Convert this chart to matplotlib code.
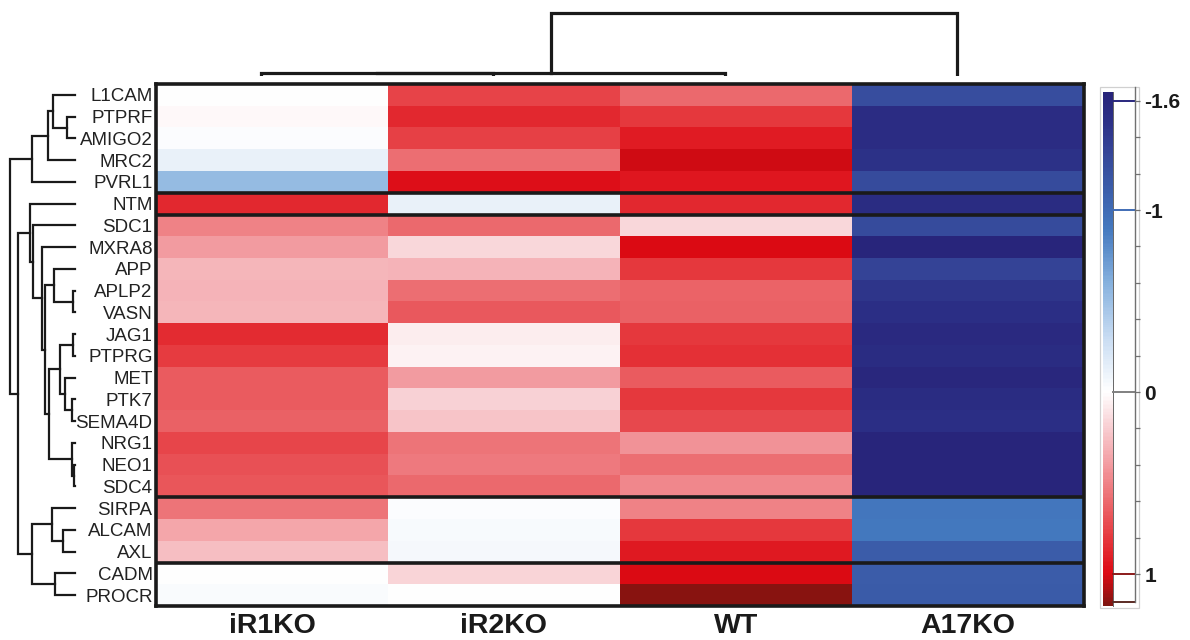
import numpy as np
import matplotlib
matplotlib.use("Agg")
import matplotlib.pyplot as plt
from matplotlib.colors import LinearSegmentedColormap, Normalize
from matplotlib.patches import Rectangle

plt.rcParams['font.family'] = ['Liberation Sans', 'DejaVu Sans']

# ---------------- data ----------------
genes = ["L1CAM", "PTPRF", "AMIGO2", "MRC2", "PVRL1", "NTM", "SDC1", "MXRA8",
         "APP", "APLP2", "VASN", "JAG1", "PTPRG", "MET", "PTK7", "SEMA4D",
         "NRG1", "NEO1", "SDC4", "SIRPA", "ALCAM", "AXL", "CADM", "PROCR"]
samples = ["iR1KO", "iR2KO", "WT", "A17KO"]

iR1KO = [0.0, 0.03, -0.02, -0.12, -0.53, 0.87, 0.5, 0.4, 0.29, 0.3, 0.29, 0.85,
         0.79, 0.65, 0.65, 0.63, 0.74, 0.7, 0.68, 0.56, 0.36, 0.26, 0.0, -0.03]
iR2KO = [0.75, 0.86, 0.77, 0.58, 0.97, -0.12, 0.6, 0.16, 0.3, 0.58, 0.67, 0.07,
         0.05, 0.4, 0.18, 0.23, 0.56, 0.53, 0.6, -0.02, -0.04, -0.05, 0.17, 0.0]
WT = [0.6, 0.8, 0.92, 1.02, 0.94, 0.86, 0.16, 1.0, 0.8, 0.62, 0.63, 0.8,
      0.83, 0.65, 0.8, 0.73, 0.43, 0.58, 0.48, 0.5, 0.8, 0.93, 1.0, 1.15]
A17KO = [-1.25, -1.52, -1.52, -1.48, -1.27, -1.53, -1.27, -1.62, -1.33, -1.45,
         -1.5, -1.57, -1.53, -1.6, -1.53, -1.5, -1.62, -1.62, -1.62, -0.92,
         -0.9, -1.12, -1.12, -1.14]

# row dendrogram merges (child a, child b, height); ids >= n_leaves are earlier merges
row_merges = [
    (1, 2, 8), (0, 24, 22), (25, 3, 27), (26, 4, 43),
    (11, 12, 2), (14, 15, 3), (13, 29, 10), (28, 30, 15),
    (17, 18, 1), (16, 32, 3), (31, 33, 26),
    (9, 10, 2), (8, 35, 21), (36, 34, 30), (7, 37, 33), (6, 38, 42), (5, 39, 45),
    (20, 21, 12), (19, 41, 23), (22, 23, 20), (42, 43, 43),
    (40, 44, 57), (27, 45, 65),
]
# column dendrogram merges
col_merges = [(0, 1, 3), (4, 2, 3), (5, 3, 63)]

group_breaks = [4.5, 5.5, 18.5, 21.5]
cbar_ticks = [-1.6, -1, 0, 1]
cbar_tick_labels = ["-1.6", "-1", "0", "1"]

# ---------------- colormap ----------------
vmin, vmax = -1.65, 1.18
anchors = [(-1.65, '#28247a'), (-1.5, '#2c2f86'), (-1.3, '#36489a'),
           (-1.1, '#3c60ac'), (-0.9, '#4479bf'), (-0.6, '#86b1de'),
           (-0.3, '#c8dcf2'), (0.0, '#ffffff'), (0.2, '#f8cdd1'),
           (0.4, '#f39ca1'), (0.6, '#ec6a6e'), (0.8, '#e6393e'),
           (1.0, '#dd0a14'), (1.18, '#7d1510')]
cmap = LinearSegmentedColormap.from_list(
    "rb", [((v - vmin) / (vmax - vmin), c) for v, c in anchors])
norm = Normalize(vmin, vmax)

W, H = 1190, 640
fig = plt.figure(figsize=(W / 100, H / 100), dpi=100)


def fax(x0, y0, x1, y1):
    return fig.add_axes([x0 / W, 1 - y1 / H, (x1 - x0) / W, (y1 - y0) / H])


# ---------------- heatmap ----------------
hx0, hy0, hx1, hy1 = 156, 84, 1084, 606
ax = fax(hx0, hy0, hx1, hy1)
data = np.column_stack([iR1KO, iR2KO, WT, A17KO])
ax.imshow(data, cmap=cmap, norm=norm, aspect='auto', interpolation='nearest')
ax.set_xlim(-0.5, len(samples) - 0.5)
ax.set_ylim(len(genes) - 0.5, -0.5)
ax.set_yticks(range(len(genes)))
ax.set_yticklabels(genes, fontsize=13.5, color='#222222')
ax.set_xticks(range(len(samples)))
ax.set_xticklabels(samples, fontsize=20.5, fontweight='bold', color='#1a1a1a')
ax.tick_params(length=0)
ax.tick_params(axis='y', pad=2.5)
ax.tick_params(axis='x', pad=5)
for s in ax.spines.values():
    s.set_linewidth(2.6)
    s.set_color('#1a1a1a')
for b in group_breaks:
    ax.axhline(b, color='#1a1a1a', lw=2.6)

# ---------------- dendrogram helper ----------------
def dendro(merges, n, draw):
    pos = {i: i for i in range(n)}
    hgt = {i: 0.0 for i in range(n)}
    for k, (a, b, h) in enumerate(merges):
        nid = n + k
        draw(pos[a], hgt[a], pos[b], hgt[b], h)
        pos[nid] = (pos[a] + pos[b]) / 2.0
        hgt[nid] = h


# left (row) dendrogram: leaves at x=75 px
lax = fax(0, hy0, 80, hy1)
lax.set_xlim(0, 80)
lax.set_ylim(len(genes) - 0.5, -0.5)
lax.axis('off')
LEAF_X = 75
lc = '#1a1a1a'


def draw_left(pa, ha, pb, hb, h):
    x = LEAF_X - h
    lax.plot([LEAF_X - ha, x, x, LEAF_X - hb], [pa, pa, pb, pb],
             color=lc, lw=1.6, solid_joinstyle='miter')


dendro(row_merges, len(genes), draw_left)

# top (column) dendrogram
tax = fax(hx0 - 11, 10, hx1 - 11, 76)
tax.set_xlim(-0.5, len(samples) - 0.5)
tax.set_ylim(0, 66)
tax.axis('off')


def draw_top(pa, ha, pb, hb, h):
    tax.plot([pa, pa, pb, pb], [ha, h, h, hb], color=lc, lw=2.3,
             solid_joinstyle='miter')


dendro(col_merges, len(samples), draw_top)

# ---------------- colorbar ----------------
cx0, cy0, cx1, cy1 = 1098, 85, 1141, 610
cax = fax(cx0, cy0, cx1, cy1)
v_top = (cy0 - 392) / 182.0
v_bot = (cy1 - 392) / 182.0
cax.set_xlim(cx0, cx1)
cax.set_ylim(v_bot, v_top)
grad = np.linspace(-1.648, 1.176, 400)
cax.pcolormesh([1103, 1113], grad, (grad[:-1, None] + grad[1:, None]) / 2,
               cmap=cmap, norm=norm, shading='flat')
cax.add_patch(Rectangle((1100, v_top + 0.01), 39, (v_bot - v_top) - 0.02,
                        fill=False, ec='#d0d0d0', lw=0.9))
cax.plot([1113, 1113], [-1.648, 1.176], color='#666666', lw=0.7)
line_cols = [cmap(norm(-1.6)), cmap(norm(-1.0)), '#808080', '#8b1a1a']
for v, c in zip(cbar_ticks, line_cols):
    cax.plot([1113, 1135], [v, v], color=c, lw=1.4)
cax.plot([1113, 1135], [1.154, 1.154], color='#5a2a22', lw=1.4)
for s in ['left', 'top', 'bottom']:
    cax.spines[s].set_visible(False)
cax.spines['right'].set_position(('data', 1135))
cax.spines['right'].set_bounds(-1.676, 1.154)
cax.spines['right'].set_color('#707070')
cax.spines['right'].set_linewidth(1.0)
cax.set_xticks([])
cax.yaxis.tick_right()
cax.set_yticks(cbar_ticks)
cax.set_yticklabels(cbar_tick_labels, fontsize=15, fontweight='bold', color='#1a1a1a')
cax.set_yticks(np.round(np.arange(-1.6, 1.01, 0.2), 2), minor=True)
cax.tick_params(axis='y', which='both', direction='out', length=3.6, width=0.9,
                color='#707070', pad=3)
cax.set_facecolor('none')

fig.savefig("out.png", dpi=100)
